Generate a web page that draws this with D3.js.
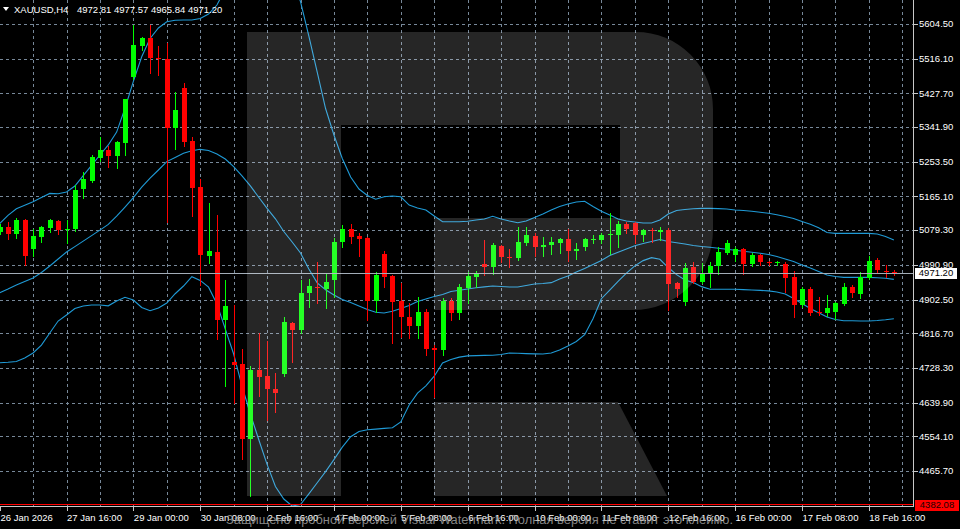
<!DOCTYPE html>
<html><head><meta charset="utf-8">
<script src="https://cdn.jsdelivr.net/npm/d3@7"></script>
<style>html,body{margin:0;padding:0;background:#000;overflow:hidden}</style>
</head><body><svg id="c" width="960" height="529"></svg>
<script>
const symbol = "XAUUSD,H4";
const open = [5074.5,5088.0,5069.4,5105.1,5032.0,5061.0,5084.7,5101.8,5081.7,5081.4, 5183.3,5204.5,5263.1,5282.7,5268.2,5300.5,5468.7,5549.2,5568.0,5518.6, 5516.1,5338.7,5441.4,5305.6,5189.2,5013.4,5024.3,4850.3,4743.3,4738.2, 4547.9,4723.0,4706.9,4674.6,4712.0,4843.5,4824.9,4918.4,4935.2,4928.6, 4952.2,5049.1,5081.4,5064.3,5058.5,4899.5,5018.5,4962.4,4898.7,4857.2, 4835.1,4871.5,4779.0,4773.9,4899.5,4868.9,4931.1,4960.7,4993.0,4986.1, 5038.9,5011.6,5007.5,5047.3,5064.3,5035.6,5041.4,5047.3,5055.9,5026.9, 5035.6,5054.2,5054.2,5066.1,5066.9,5094.9,5098.2,5066.9,5080.9,5075.3, 5079.6,4943.8,4897.0,4984.6,4947.9,4970.8,4987.9,5021.8,5015.9,5030.5, 4993.0,5015.9,4998.9,4994.8,4993.0,4959.1,4888.6,4928.6,4871.5,4867.4, 4871.5,4891.1,4935.2,4916.6,4956.6,5003.2,4975.9,4972.81];
const high = [5094.9,5100.8,5110.2,5106.9,5081.4,5089.8,5106.9,5104.3,5105.1,5195.0, 5228.2,5270.7,5315.8,5293.6,5307.1,5414.1,5601.9,5570.6,5601.9,5548.4, 5556.8,5432.0,5454.9,5316.6,5208.8,5149.2,5117.8,4952.2,4888.6,4775.7, 4733.1,4816.5,4797.6,4714.5,4858.7,4846.0,4952.2,4954.0,4998.1,4967.5, 5058.5,5092.4,5094.9,5071.2,5061.0,4973.4,5026.9,4965.0,4945.4,4892.9, 4908.2,4877.6,4786.6,4905.6,4905.6,4942.0,4973.4,4975.9,5054.2,5047.3, 5041.4,5030.5,5086.5,5088.0,5071.2,5061.0,5062.6,5058.5,5081.4,5045.7, 5058.5,5066.9,5071.2,5122.2,5103.3,5100.8,5100.8,5081.4,5084.0,5086.5, 5084.0,4947.9,4994.8,4998.9,4994.8,4998.9,5037.1,5054.2,5037.1,5033.0, 5020.3,5018.5,5001.4,5001.4,4998.9,4975.9,4933.6,4933.6,4908.2,4914.0, 4897.0,4943.8,4939.5,4973.4,5013.4,5007.5,4990.5,4977.57];
const low = [5069.4,5055.9,5058.5,4990.5,5013.4,5049.8,5073.8,5069.4,5047.3,5077.9, 5160.4,5202.7,5254.7,5239.4,5236.8,5270.7,5463.6,5538.2,5478.9,5474.5, 5100.0,5286.0,5293.6,5115.3,4939.5,4994.8,4801.2,4682.2,4638.1,4497.0, 4401.9,4656.7,4595.6,4616.7,4707.7,4744.1,4818.0,4884.2,4892.9,4880.1, 4909.7,5037.1,5045.7,5013.4,4850.3,4871.5,4935.2,4791.0,4807.8,4803.7, 4803.7,4761.2,4654.9,4761.2,4850.3,4852.1,4892.9,4935.2,4965.0,4967.5, 4998.9,4984.6,5003.2,5041.4,5013.4,5013.4,5018.5,5020.3,5001.4,5005.0, 5028.7,5047.3,5047.3,5018.5,5037.1,5072.8,5045.7,5052.4,5049.8,5054.2, 4875.8,4908.2,4888.6,4943.8,4943.8,4933.6,4967.5,5018.5,5001.4,4967.5, 4987.9,4990.5,4990.5,4990.5,4922.4,4858.7,4884.2,4863.1,4863.1,4860.5, 4852.1,4888.6,4908.2,4905.6,4954.0,4973.4,4960.7,4965.84];
const close = [5088.0,5069.4,5105.1,5013.4,5064.3,5088.0,5104.3,5079.6,5083.5,5181.5, 5210.3,5266.4,5282.7,5268.2,5303.8,5412.6,5551.0,5568.0,5517.1,5514.5, 5338.7,5385.4,5304.6,5187.4,5015.9,5027.4,4850.3,4886.0,4736.5,4547.9, 4723.0,4705.1,4673.8,4665.1,4846.0,4824.9,4919.9,4937.0,4931.1,4946.4, 5049.8,5081.4,5062.6,5055.9,4899.5,4965.0,4960.7,4897.0,4857.2,4835.1, 4871.5,4775.7,4773.9,4899.5,4868.9,4933.6,4962.4,4969.3,4984.6,5040.6, 5010.1,5008.3,5049.8,5066.1,5035.6,5041.4,5049.8,5055.9,5026.9,5030.5, 5055.9,5057.5,5066.1,5069.4,5094.9,5081.4,5066.9,5079.6,5077.1,5079.1, 4942.0,4928.6,4983.3,4947.9,4970.8,4989.2,5024.3,5047.3,5030.5,4993.0, 5015.9,4997.3,4994.8,4998.1,4956.6,4888.6,4928.6,4868.9,4867.4,4880.1, 4892.9,4935.2,4918.4,4959.1,5001.4,4977.7,4972.6,4971.20];

const bbUpper = [5096.2,5117.1,5133.9,5142.8,5151.7,5162.4,5172.9,5172.1,5176.4,5191.7, 5218.0,5244.2,5270.7,5296.4,5329.1,5389.9,5458.5,5521.1,5567.5,5594.3, 5610.3,5613.9,5614.6,5614.6,5618.5,5629.9,5652.9,5693.6,5719.1,5753.2, 5773.1,5780.5,5786.9,5790.3,5756.7,5721.7,5661.7,5573.9,5482.2,5389.2, 5321.7,5261.8,5214.7,5184.1,5167.8,5158.1,5164.5,5166.3,5164.2,5143.3, 5135.7,5130.6,5115.3,5100.8,5100.8,5100.8,5102.0,5105.1,5107.7,5114.8, 5107.7,5102.6,5098.0,5102.6,5111.5,5120.4,5130.6,5139.5,5145.9,5151.0, 5152.8,5139.5,5127.3,5117.8,5107.7,5102.6,5100.0,5097.5,5097.5,5105.1, 5120.4,5129.3,5131.9,5133.9,5134.7,5134.9,5134.2,5133.1,5130.6,5129.3, 5127.3,5125.0,5122.4,5118.4,5114.0,5109.2,5101.5,5094.2,5085.2,5073.3, 5071.2,5071.2,5071.2,5071.2,5071.2,5069.4,5063.3,5054.2];
const bbMiddle = [4919.9,4929.3,4939.5,4948.4,4957.3,4971.4,4987.9,5005.8,5023.6,5037.3, 5051.4,5065.4,5079.4,5093.9,5114.8,5138.0,5162.2,5188.9,5211.6,5232.5, 5253.9,5264.3,5275.0,5281.4,5285.2,5282.2,5273.3,5260.5,5241.4,5217.7, 5192.0,5163.2,5134.7,5108.2,5075.8,5049.1,5021.0,4980.3,4945.1,4927.5, 4914.0,4902.6,4894.9,4886.0,4877.1,4870.0,4868.2,4872.8,4879.6,4887.3, 4897.5,4903.8,4910.2,4915.3,4923.0,4926.0,4929.3,4932.4,4934.9,4937.0, 4935.7,4934.4,4934.4,4938.2,4942.1,4943.3,4945.6,4954.8,4962.4,4972.6, 4981.8,4992.0,5002.2,5014.7,5022.8,5031.2,5039.4,5045.2,5050.3,5055.4, 5050.3,5047.3,5044.0,5040.1,5037.6,5035.6,5033.0,5030.5,5028.2,5025.6, 5023.1,5020.5,5017.2,5012.1,5005.8,4999.4,4990.5,4982.8,4973.9,4965.0, 4961.2,4959.1,4959.1,4959.1,4959.1,4957.9,4956.8,4954.0];
const bbLower = [4741.6,4742.8,4744.6,4753.5,4766.3,4786.6,4817.2,4847.8,4863.1,4879.6, 4886.0,4888.6,4888.6,4886.5,4898.7,4908.2,4901.3,4882.2,4874.0,4880.9, 4893.7,4917.3,4937.0,4960.7,4951.2,4934.1,4891.4,4827.4,4763.7,4682.2, 4610.9,4545.9,4482.5,4426.1,4394.3,4376.5,4380.3,4407.5,4435.8,4464.1, 4494.7,4526.5,4553.1,4566.2,4570.9,4572.4,4574.2,4575.7,4590.7,4633.8, 4663.9,4682.7,4707.2,4741.0,4749.7,4755.8,4758.9,4759.6,4760.2,4760.7, 4762.4,4766.3,4765.5,4764.7,4764.2,4763.7,4766.3,4773.9,4784.1,4795.6, 4812.9,4853.7,4904.6,4926.8,4948.9,4969.6,4988.4,5001.7,5009.3,5005.0, 4984.1,4966.0,4952.2,4945.9,4935.4,4928.6,4928.6,4928.6,4928.6,4927.8, 4926.8,4925.8,4924.7,4921.7,4916.6,4905.1,4892.4,4879.6,4868.7,4858.0, 4851.6,4848.6,4848.3,4847.8,4847.8,4849.1,4850.9,4853.7];

const priceTicks = [5604.50,5516.10,5427.70,5341.90,5253.50,5165.10,5079.30,4990.90,4902.50,4816.70,4728.30,4639.90,4554.10,4465.70];
const timeTickBars = [0,8,16,24,32,40,48,56,64,72,80,88,96,104];
const timeTickLabels = ["26 Jan 2026","27 Jan 16:00","29 Jan 00:00","30 Jan 08:00","2 Feb 16:00","4 Feb 00:00","5 Feb 08:00","6 Feb 16:00","10 Feb 00:00","11 Feb 08:00","12 Feb 16:00","16 Feb 00:00","17 Feb 08:00","18 Feb 16:00"];
const lastPrice = 4971.20;
const levelPrice = 4382.08;
const watermarkText = "Защищено пробной версией Visual Watermark. Полная версия не ставит это клеймо.";

const PW = 913, PH = 506;
const FONT = "'Liberation Sans', Arial, sans-serif";
const svg = d3.select('#c');
svg.append('rect').attr('width',960).attr('height',529).attr('fill','#000');
const defs = svg.append('defs');
defs.append('clipPath').attr('id','plot').append('rect').attr('x',0).attr('y',0).attr('width',PW).attr('height',PH);

const x = d3.scaleLinear().domain([8,104]).range([66.5,868.8]);
const y = d3.scaleLinear().domain([4465.7,5604.5]).range([471,24]);
const px = v => Math.round(x(v)) + 0.5;
const py = v => Math.round(y(v)) + 0.5;

const plot = svg.append('g').attr('clip-path','url(#plot)');
// grid
const gridColor = '#778899';
plot.selectAll('.hg').data(priceTicks).join('line')
  .attr('x1',0).attr('x2',PW).attr('y1',d=>py(d)).attr('y2',d=>py(d))
  .attr('stroke',gridColor).attr('stroke-dasharray','3,3').attr('stroke-width',1);
plot.selectAll('.vg').data(d3.range(4,109,4)).join('line')
  .attr('y1',0).attr('y2',PH).attr('x1',d=>px(d)).attr('x2',d=>px(d))
  .attr('stroke',gridColor).attr('stroke-dasharray','3,3').attr('stroke-width',1);

// bollinger bands
const line = d3.line().x((d,i)=>x(i)).y(d=>y(d));
[bbUpper,bbMiddle,bbLower].forEach(arr=>{
  plot.append('path').attr('d',line(arr)).attr('fill','none')
    .attr('stroke','#1f9ad6').attr('stroke-width',1.1);
});

// candles
const idx = d3.range(open.length);
const col = i => close[i] >= open[i] ? '#00ff00' : '#ff0000';
plot.selectAll('.wick').data(idx).join('line')
  .attr('x1',i=>px(i)).attr('x2',i=>px(i))
  .attr('y1',i=>Math.round(y(high[i]))).attr('y2',i=>Math.round(y(low[i]))+1)
  .attr('stroke',col).attr('stroke-width',1);
plot.selectAll('.body').data(idx).join('rect')
  .attr('x',i=>Math.round(x(i))-2)
  .attr('width',5)
  .attr('y',i=>Math.round(y(Math.max(open[i],close[i]))))
  .attr('height',i=>Math.max(1,Math.round(y(Math.min(open[i],close[i])))-Math.round(y(Math.max(open[i],close[i])))))
  .attr('fill',col);

// price lines
plot.append('line').attr('x1',0).attr('x2',PW).attr('y1',py(lastPrice)).attr('y2',py(lastPrice))
  .attr('stroke','#a3adb8').attr('stroke-width',1);
plot.append('line').attr('x1',0).attr('x2',PW).attr('y1',py(levelPrice)).attr('y2',py(levelPrice))
  .attr('stroke','#ff0000').attr('stroke-width',1);

// R watermark overlay
const wm = plot.append('g').attr('fill','#ffffff').attr('fill-opacity',0.148);
wm.append('path').attr('d','M247,32 H636 A77,77 0 0 1 713,109 V230 A80,80 0 0 1 633,310 H434 V218 H620 V125 H341 V496 H247 Z');
wm.append('path').attr('d','M434,402 H618 L667,496 H434 Z');

// borders
svg.append('line').attr('x1',PW+0.5).attr('x2',PW+0.5).attr('y1',0).attr('y2',PH+1).attr('stroke','#c8c8c8');
svg.append('line').attr('x1',0).attr('x2',PW+1).attr('y1',PH+0.5).attr('y2',PH+0.5).attr('stroke','#c8c8c8');

// y axis
const yAxis = svg.append('g');
yAxis.selectAll('line').data(priceTicks).join('line')
  .attr('x1',PW+1).attr('x2',PW+5).attr('y1',d=>py(d)).attr('y2',d=>py(d))
  .attr('stroke','#c8c8c8');
yAxis.selectAll('text').data(priceTicks).join('text')
  .attr('x',919).attr('y',d=>y(d)).attr('dy','0.35em')
  .attr('fill','#ffffff').attr('font-family',FONT).attr('font-size','9.5px')
  .text(d=>d3.format('.2f')(d));

// price boxes
const fmt = d3.format('.2f');
const lp = y(lastPrice);
svg.append('rect').attr('x',915).attr('y',Math.round(lp)-5).attr('width',42).attr('height',11).attr('fill','#ffffff');
svg.append('text').attr('x',936).attr('y',lp).attr('dy','0.35em').attr('text-anchor','middle')
  .attr('fill','#000').attr('font-family',FONT).attr('font-size','9.5px').text(fmt(lastPrice));
const lv = y(levelPrice);
svg.append('rect').attr('x',915).attr('y',Math.round(lv)-4).attr('width',44).attr('height',11).attr('fill','#ff0000');
svg.append('text').attr('x',937).attr('y',lv+1).attr('dy','0.35em').attr('text-anchor','middle')
  .attr('fill','#1a0000').attr('font-family',FONT).attr('font-size','9.5px').text(fmt(levelPrice));

// x axis
const xAxis = svg.append('g');
xAxis.selectAll('line').data(timeTickBars).join('line')
  .attr('x1',d=>px(d)).attr('x2',d=>px(d)).attr('y1',PH+1).attr('y2',PH+5)
  .attr('stroke','#c8c8c8');
xAxis.selectAll('text').data(timeTickBars).join('text')
  .attr('x',d=>Math.max(0,x(d))+0.5).attr('y',521)
  .attr('fill','#ffffff').attr('font-family',FONT).attr('font-size','9.5px')
  .text((d,i)=>timeTickLabels[i]);

// title
const last = open.length-1;
svg.append('path').attr('d','M3,7 L9,7 L6,11 Z').attr('fill','#ffffff');
svg.append('text').attr('x',14).attr('y',12.5).attr('fill','#ffffff').attr('font-family',FONT).attr('font-size','9.5px').text(symbol);
svg.append('text').attr('x',77).attr('y',12.5).attr('fill','#ffffff').attr('font-family',FONT).attr('font-size','9.5px')
  .text([open[last],high[last],low[last],close[last]].map(fmt).join(' '));

// bottom watermark text
svg.append('text').attr('x',226).attr('y',524).attr('fill','#b4b4b4').attr('fill-opacity',0.75)
  .attr('font-family',FONT).attr('font-size','13.5px')
  .attr('textLength',507).attr('lengthAdjust','spacingAndGlyphs')
  .text(watermarkText);
</script></body></html>
